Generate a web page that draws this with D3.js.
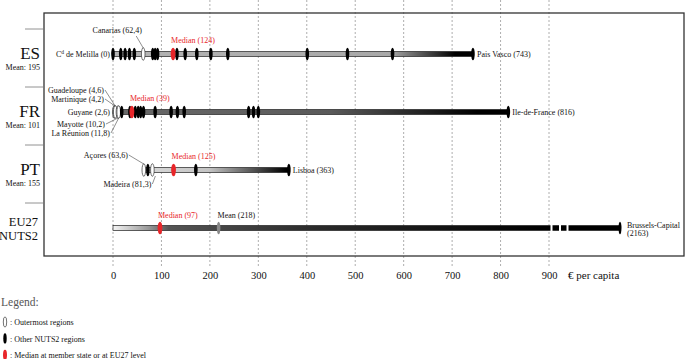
<!DOCTYPE html>
<html>
<head>
<meta charset="utf-8">
<script src="https://cdn.jsdelivr.net/npm/d3@7"></script>
<style>
  body { margin: 0; background: #fff; }
  svg text { font-family: 'Liberation Serif', 'DejaVu Serif', serif; }
</style>
</head>
<body>
<svg width="685" height="359"></svg>
<script>
// values in euro per capita
var rows = ['ES', 'FR', 'PT', 'EU'];
var rowMeans = [195, 101, 155];
var rowMedians = [124, 39, 125];

var esRegions = [0, 16, 25, 34, 44, 82, 87, 92, 132, 149, 173, 202, 237, 401, 484, 577, 743];
var esOutermost = [62.4];
var frRegions = [18, 35, 46, 52, 57, 63, 87, 120, 133, 147, 280, 290, 300, 816];
var frOutermost = [2.6, 4.2, 4.6, 10.2, 11.8];
var frOutermostNames = ['Guyane', 'Martinique', 'Guadeloupe', 'Mayotte', 'La Réunion'];
var ptRegions = [72, 171, 363];
var ptOutermost = [63.6, 81.3];
var ptOutermostNames = ['Açores', 'Madeira'];

var euMedian = 97;
var euMean = 218;
var euMax = 2163;

var ticks = [0, 100, 200, 300, 400, 500, 600, 700, 800, 900];

var fmt = v => String(v).replace('.', ',');

var svg = d3.select('svg');
var FONT = 'Liberation Serif, DejaVu Serif, serif';

var x = d3.scaleLinear().domain([0, 900]).range([113, 549]);
// broken axis for the EU27 row
var xEU = d3.scaleLinear().domain([0, 900, euMax]).range([113, 549, 620]);
var y = d3.scalePoint().domain(rows).range([54, 228]);

// gradients for the bars
var grads = {
  ES: [[0, '#b4b4b4'], [0.77, '#a8a8a8'], [0.95, '#000']],
  FR: [[0, '#6a6a6a'], [0.55, '#5a5a5a'], [0.92, '#000']],
  PT: [[0, '#d8d8d8'], [0.45, '#c4c4c4'], [0.98, '#000']],
  EU: [[0, '#f4f4f4'], [0.07, '#999'], [0.11, '#555'], [0.4, '#2a2a2a'], [0.85, '#000']]
};
var defs = svg.append('defs');
Object.keys(grads).forEach(k => {
  defs.append('linearGradient')
    .attr('id', 'g-' + k)
    .selectAll('stop')
    .data(grads[k])
    .enter()
    .append('stop')
    .attr('offset', d => d[0])
    .attr('stop-color', d => d[1]);
});

// grid
svg.append('g')
  .selectAll('line')
  .data(ticks)
  .enter()
  .append('line')
  .attr('x1', d => x(d)).attr('x2', d => x(d))
  .attr('y1', 0).attr('y2', 266)
  .attr('stroke', '#999')
  .attr('stroke-width', 0.8)
  .attr('stroke-dasharray', '2,2');

// frame
svg.append('rect')
  .attr('x', 44).attr('y', 13)
  .attr('width', 640).attr('height', 243)
  .attr('fill', 'none')
  .attr('stroke', '#333')
  .attr('stroke-width', 1.3);

// row separators
svg.append('g')
  .selectAll('line')
  .data(rows)
  .enter()
  .append('line')
  .attr('x1', 25).attr('x2', 44)
  .attr('y1', d => y(d) - 25).attr('y2', d => y(d) - 25)
  .attr('stroke', '#777')
  .attr('stroke-width', 0.8);

// axis
var axis = svg.append('g')
  .attr('transform', 'translate(0,266)')
  .call(d3.axisBottom(x).tickValues(ticks).tickSize(0).tickPadding(6))
  .attr('font-family', FONT);
axis.select('.domain').remove();
axis.selectAll('text')
  .attr('font-size', 10.5)
  .attr('fill', '#111');
svg.append('text')
  .attr('x', 568).attr('y', 279)
  .attr('font-size', 11)
  .attr('fill', '#111')
  .text('€ per capita');

function marker(g, xv, yv, kind) {
  var e = g.append('ellipse')
    .attr('cx', xv).attr('cy', yv)
    .attr('rx', kind === 'median' ? 2.4 : 1.8)
    .attr('ry', 6.3);
  if (kind === 'outer') e.attr('fill', '#fff').attr('stroke', '#333').attr('stroke-width', 0.7);
  else if (kind === 'median') e.attr('fill', '#e8262a');
  else if (kind === 'mean') e.attr('fill', '#888');
  else e.attr('fill', '#000');
  return e;
}

function label(xv, yv, txt, anchor, color) {
  return svg.append('text')
    .attr('x', xv).attr('y', yv)
    .attr('font-size', 8)
    .attr('text-anchor', anchor || 'start')
    .attr('fill', color || '#111')
    .text(txt);
}

function leader(x1, y1, x2, y2) {
  svg.append('line')
    .attr('x1', x1).attr('y1', y1).attr('x2', x2).attr('y2', y2)
    .attr('stroke', '#444').attr('stroke-width', 0.6);
}

var countryData = [
  {key: 'ES', regions: esRegions, outer: esOutermost},
  {key: 'FR', regions: frRegions, outer: frOutermost},
  {key: 'PT', regions: ptRegions, outer: ptOutermost}
];

countryData.forEach((c, i) => {
  var yy = y(c.key);
  var all = c.regions.concat(c.outer);
  var lo = d3.min(all), hi = d3.max(all);
  var g = svg.append('g');

  g.append('rect')
    .attr('x', x(lo)).attr('y', yy - 2.5)
    .attr('width', x(hi) - x(lo)).attr('height', 5)
    .attr('fill', 'url(#g-' + c.key + ')')
    .attr('stroke', '#222').attr('stroke-width', 0.7);

  c.outer.forEach(v => marker(g, x(v), yy, 'outer'));
  c.regions.forEach(v => marker(g, x(v), yy, 'region'));
  marker(g, x(rowMedians[i]), yy, 'median');

  label(x(rowMedians[i]) - 2, yy - 11, 'Median (' + rowMedians[i] + ')', 'start', '#e8262a');

  // row titles
  svg.append('text')
    .attr('x', 40).attr('y', yy + 5)
    .attr('text-anchor', 'end')
    .attr('font-size', 17)
    .attr('fill', '#111')
    .text(c.key);
  svg.append('text')
    .attr('x', 40).attr('y', yy + 16)
    .attr('text-anchor', 'end')
    .attr('font-size', 8)
    .attr('fill', '#111')
    .text('Mean: ' + rowMeans[i]);
});

// ES annotations
var yES = y('ES');
var mel = label(x(0) - 3, yES + 3, 'C', 'end');
mel.append('tspan').attr('font-size', 5.5).attr('dy', -3).text('d');
mel.append('tspan').attr('dy', 3).text(' de Melilla (0)');
label(x(esOutermost[0]) - 26, yES - 21, 'Canarias (' + fmt(esOutermost[0]) + ')', 'middle');
leader(x(esOutermost[0]) - 7, yES - 18, x(esOutermost[0]), yES - 6);
label(x(d3.max(esRegions)) + 4, yES + 3, 'Pais Vasco (' + d3.max(esRegions) + ')');

// FR annotations
var yFR = y('FR');
var frOrder = [2, 1, 0, 3, 4];
var frDx = [-9, -9, -3, -8, -3];
var frDy = [-19, -10, 3, 15, 24];
frOrder.forEach((k, j) => {
  var tx = x(0) + frDx[j];
  label(tx, yFR + frDy[j], frOutermostNames[k] + ' (' + fmt(frOutermost[k]) + ')', 'end');
  if (j !== 2) {
    var ty = yFR + frDy[j] - 3;
    leader(tx + 1, ty, x(frOutermost[k]), ty < yFR ? yFR - 6 : yFR + 6);
  }
});
label(x(d3.max(frRegions)) + 4, yFR + 3, 'Ile-de-France (' + d3.max(frRegions) + ')');

// PT annotations
var yPT = y('PT');
label(x(ptOutermost[0]) - 16, yPT - 12, ptOutermostNames[0] + ' (' + fmt(ptOutermost[0]) + ')', 'end');
leader(x(ptOutermost[0]) - 15, yPT - 15, x(ptOutermost[0]), yPT - 6);
label(x(ptOutermost[1]) - 1, yPT + 17, ptOutermostNames[1] + ' (' + fmt(ptOutermost[1]) + ')', 'end');
leader(x(ptOutermost[1]), yPT + 14, x(ptOutermost[1]) + 3, yPT + 6);
label(x(d3.max(ptRegions)) + 4, yPT + 3, 'Lisboa (' + d3.max(ptRegions) + ')');

// EU27 row
var yEU = y('EU');
var ge = svg.append('g');
ge.append('rect')
  .attr('x', xEU(0)).attr('y', yEU - 2.5)
  .attr('width', xEU(euMax) - xEU(0)).attr('height', 5)
  .attr('fill', 'url(#g-EU)')
  .attr('stroke', '#222').attr('stroke-width', 0.7);
// axis break
[1.5, 10, 17.5].forEach(d => {
  ge.append('rect')
    .attr('x', xEU(900) + d).attr('y', yEU - 4)
    .attr('width', 2).attr('height', 8)
    .attr('fill', '#fff');
});
marker(ge, xEU(euMean), yEU, 'mean');
marker(ge, xEU(euMedian), yEU, 'median');
marker(ge, xEU(euMax), yEU, 'region').attr('rx', 1.5);
label(xEU(euMedian) - 2, yEU - 10, 'Median (' + euMedian + ')', 'start', '#e8262a');
label(xEU(euMean) - 1, yEU - 10, 'Mean (' + euMean + ')');
label(xEU(euMax) + 7, yEU, 'Brussels-Capital');
label(xEU(euMax) + 7, yEU + 8, '(' + euMax + ')');
svg.append('text').attr('x', 38).attr('y', yEU - 2).attr('text-anchor', 'end')
  .attr('font-size', 12.5).attr('fill', '#111').text('EU27');
svg.append('text').attr('x', 38).attr('y', yEU + 12).attr('text-anchor', 'end')
  .attr('font-size', 12.5).attr('fill', '#111').text('NUTS2');

// legend
svg.append('text').attr('x', 1).attr('y', 306)
  .attr('font-size', 11.5).attr('fill', '#555').text('Legend:');
var legendItems = [['outer', ': Outermost regions'], ['region', ': Other NUTS2 regions'], ['median', ': Median at member state or at EU27 level']];
var gl = svg.append('g');
legendItems.forEach((d, i) => {
  var ly = 322 + i * 16.5;
  marker(gl, 5, ly, d[0]).attr('ry', 5.2).attr('rx', d[0] === 'median' ? 2 : 1.7);
  label(10, ly + 3, d[1]);
});
</script>
</body>
</html>
